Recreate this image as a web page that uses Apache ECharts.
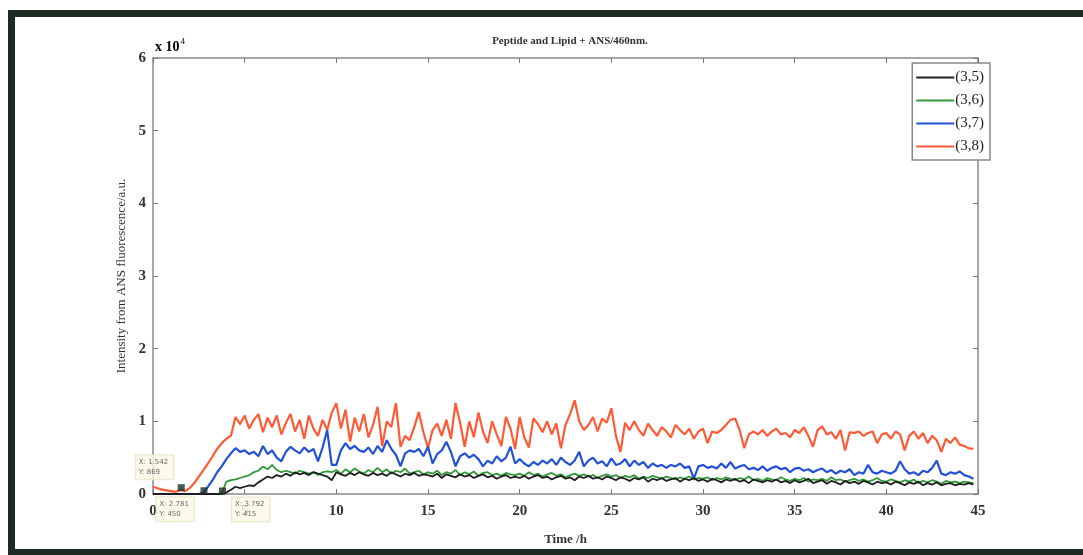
<!DOCTYPE html>
<html>
<head>
<meta charset="utf-8">
<title>Peptide and Lipid + ANS/460nm.</title>
<script src="https://cdn.jsdelivr.net/npm/echarts@6/dist/echarts.min.js"></script>
<style>
  html, body { margin: 0; padding: 0; background: #fff; }
  #chart { width: 1083px; height: 555px; }
</style>
</head>
<body>
<div id="chart"></div>
<script>
// sampling step of the recorder, hours (values are x 10^4 a.u.)
var step = 0.25;

var xTicks = [0, 5, 10, 15, 20, 25, 30, 35, 40, 45];
var yTicks = [0, 1, 2, 3, 4, 5, 6];
var seriesNames = ['(3,5)', '(3,6)', '(3,7)', '(3,8)'];

// (3,5) black
var s35 = [
  0,0,0,0,0,0,0,0,0,0,0,0,0,0,0,0,0.02,0.06,0.10,0.08,
  0.10,0.12,0.11,0.16,0.20,0.24,0.22,0.26,0.24,0.28,0.25,0.30,0.27,0.29,0.26,0.30,0.28,0.26,0.24,0.19,
  0.30,0.27,0.25,0.29,0.26,0.30,0.27,0.25,0.29,0.26,0.28,0.25,0.30,0.27,0.24,0.28,0.26,0.29,0.25,0.27,
  0.26,0.24,0.28,0.22,0.27,0.25,0.23,0.27,0.24,0.26,0.22,0.25,0.27,0.23,0.25,0.21,0.24,0.26,0.22,0.24,
  0.22,0.25,0.21,0.24,0.26,0.22,0.24,0.20,0.23,0.25,0.21,0.23,0.19,0.24,0.22,0.25,0.21,0.23,0.20,0.24,
  0.22,0.19,0.23,0.21,0.18,0.22,0.20,0.23,0.17,0.21,0.19,0.22,0.18,0.20,0.22,0.17,0.21,0.19,0.22,0.18,
  0.20,0.17,0.21,0.19,0.16,0.20,0.18,0.21,0.17,0.19,0.15,0.20,0.18,0.16,0.19,0.17,0.20,0.16,0.18,0.15,
  0.19,0.16,0.18,0.21,0.15,0.17,0.19,0.14,0.18,0.16,0.13,0.18,0.15,0.17,0.14,0.18,0.16,0.13,0.17,0.15,
  0.16,0.13,0.17,0.15,0.12,0.16,0.14,0.17,0.12,0.15,0.13,0.16,0.12,0.14,0.15,0.12,0.14,0.13,0.15,0.13
];
// (3,6) green
var s36 = [
  0,0,0,0,0,0,0,0,0,0,0,0,0,0,0,0.01,0.17,0.19,0.20,0.22,
  0.24,0.26,0.30,0.32,0.38,0.34,0.40,0.33,0.30,0.32,0.30,0.28,0.32,0.30,0.28,0.30,0.26,0.30,0.31,0.30,
  0.33,0.28,0.34,0.30,0.35,0.31,0.28,0.33,0.30,0.36,0.30,0.34,0.28,0.32,0.30,0.35,0.28,0.30,0.32,0.27,
  0.30,0.28,0.32,0.26,0.30,0.28,0.33,0.26,0.30,0.27,0.31,0.25,0.29,0.30,0.26,0.28,0.25,0.29,0.27,0.26,
  0.28,0.25,0.30,0.26,0.28,0.24,0.27,0.29,0.25,0.27,0.23,0.26,0.28,0.25,0.27,0.24,0.26,0.22,0.25,0.27,
  0.24,0.26,0.22,0.25,0.23,0.26,0.21,0.24,0.22,0.25,0.23,0.21,0.24,0.22,0.20,0.23,0.21,0.24,0.20,0.22,
  0.21,0.23,0.19,0.22,0.20,0.23,0.21,0.19,0.22,0.20,0.24,0.19,0.21,0.18,0.22,0.20,0.19,0.23,0.20,0.18,
  0.21,0.19,0.22,0.17,0.20,0.19,0.21,0.18,0.23,0.19,0.20,0.17,0.19,0.21,0.18,0.20,0.17,0.19,0.22,0.18,
  0.17,0.20,0.18,0.16,0.19,0.17,0.20,0.15,0.18,0.16,0.19,0.17,0.14,0.18,0.16,0.17,0.15,0.17,0.16,0.15
];
// (3,7) blue
var s37 = [
  0,0,0,0,0,0,0,0,0,0,0,0.02,0.10,0.19,0.30,0.38,0.48,0.56,0.63,0.58,
  0.60,0.55,0.58,0.52,0.66,0.55,0.60,0.50,0.45,0.58,0.65,0.60,0.56,0.64,0.58,0.62,0.45,0.64,0.88,0.40,
  0.40,0.60,0.70,0.62,0.66,0.60,0.58,0.64,0.55,0.66,0.58,0.74,0.62,0.54,0.38,0.56,0.60,0.58,0.62,0.52,
  0.65,0.42,0.55,0.60,0.72,0.58,0.38,0.52,0.56,0.50,0.54,0.48,0.38,0.46,0.42,0.52,0.45,0.50,0.65,0.42,
  0.48,0.42,0.38,0.44,0.40,0.46,0.42,0.48,0.40,0.50,0.44,0.40,0.46,0.58,0.38,0.46,0.50,0.42,0.45,0.38,
  0.49,0.40,0.42,0.48,0.38,0.46,0.40,0.44,0.36,0.42,0.38,0.40,0.36,0.40,0.38,0.42,0.36,0.38,0.21,0.38,
  0.40,0.36,0.38,0.35,0.42,0.36,0.44,0.35,0.38,0.40,0.34,0.36,0.33,0.38,0.32,0.36,0.38,0.34,0.36,0.30,
  0.35,0.36,0.32,0.34,0.30,0.33,0.35,0.30,0.33,0.28,0.32,0.30,0.34,0.26,0.30,0.28,0.40,0.30,0.28,0.32,
  0.30,0.28,0.32,0.45,0.34,0.28,0.30,0.26,0.32,0.30,0.36,0.46,0.28,0.26,0.30,0.28,0.31,0.26,0.24,0.21
];
// (3,8) red
var s38 = [
  0.10,0.08,0.06,0.05,0.04,0.03,0.06,0.04,0.08,0.15,0.24,0.33,0.42,0.52,0.62,0.70,0.76,0.80,1.06,0.96,
  1.08,0.90,1.02,1.10,0.85,1.05,0.92,1.08,0.82,0.98,1.10,0.86,1.02,0.76,1.08,0.90,0.80,1.02,0.88,1.12,
  1.25,0.90,1.16,0.72,1.05,0.86,1.10,0.78,0.95,1.20,0.66,1.00,0.92,1.25,0.65,0.80,0.74,0.92,1.13,0.85,
  0.63,0.88,0.97,0.80,1.02,0.76,1.25,0.98,0.65,1.00,0.78,1.12,0.86,0.70,1.00,0.82,0.66,1.06,0.90,0.62,
  1.06,0.78,0.64,1.04,0.96,0.85,1.00,0.82,0.97,0.63,0.95,1.10,1.29,1.00,0.88,0.95,1.06,0.86,1.04,0.98,
  1.18,0.80,0.58,0.98,0.88,1.00,0.88,0.80,0.97,0.88,0.80,0.92,0.86,0.78,0.95,0.88,0.82,0.90,0.76,0.86,
  0.90,0.70,0.86,0.84,0.88,0.95,1.02,1.04,0.88,0.63,0.82,0.86,0.82,0.88,0.80,0.86,0.90,0.82,0.84,0.78,
  0.88,0.84,0.92,0.80,0.65,0.88,0.93,0.82,0.85,0.76,0.88,0.60,0.85,0.84,0.86,0.80,0.84,0.86,0.70,0.82,
  0.84,0.76,0.86,0.82,0.60,0.80,0.86,0.76,0.84,0.70,0.80,0.74,0.58,0.76,0.70,0.78,0.68,0.66,0.63,0.62
];

// data cursor tips: [time, value x10^4, raw Y]
var tipX = [1.542, 2.781, 3.792];
var tipY = [0.0869, 0.0450, 0.0415];
var tipRaw = [869, 450, 415];

var colors = ['#1e1e1e', '#2f9a35', '#2250d6', '#ff5a36'];
var serif = 'Liberation Serif';

function pairs(arr) {
  var out = [];
  for (var i = 0; i < arr.length; i++) {
    out.push([+(i * step).toFixed(2), arr[i]]);
  }
  return out;
}

var tipOffsets = [[-42, -29], [-44, 10], [13, 10]];
var tipData = [];
for (var k = 0; k < tipX.length; k++) {
  tipData.push({
    value: [tipX[k], tipY[k]],
    label: {
      show: true,
      position: tipOffsets[k],
      formatter: 'X: ' + tipX[k] + '\nY: ' + tipRaw[k]
    }
  });
}

var chart = echarts.init(document.getElementById('chart'));

var axisLineStyle = { color: '#8a8a8a', width: 1.5 };
var tickStyle = { show: true, inside: true, length: 5, lineStyle: { color: '#777' } };

var option = {
  backgroundColor: '#ffffff',
  animation: false,
  color: colors,
  title: {
    text: 'Peptide and Lipid + ANS/460nm.',
    left: 565,
    top: 31,
    textAlign: 'center',
    textStyle: { fontFamily: serif, fontSize: 11, fontWeight: 'bold', color: '#333' }
  },
  legend: {
    orient: 'vertical',
    right: 93,
    top: 63,
    data: seriesNames,
    icon: 'rect',
    itemWidth: 38,
    itemHeight: 2,
    itemGap: 8,
    padding: [7, 6, 6, 4],
    backgroundColor: '#fff',
    borderColor: '#888',
    borderWidth: 1.5,
    textStyle: { fontFamily: serif, fontSize: 15, color: '#222', padding: [0, 0, 0, -4] }
  },
  grid: { left: 153, right: 105, top: 58, bottom: 61 },
  xAxis: [{
    type: 'value',
    min: 0, max: 45, interval: 5,
    name: 'Time /h',
    nameLocation: 'middle',
    nameGap: 39,
    nameTextStyle: { fontFamily: serif, fontSize: 13, fontWeight: 'bold', color: '#333' },
    axisLine: { show: true, onZero: false, lineStyle: axisLineStyle },
    axisTick: tickStyle,
    axisLabel: {
      fontFamily: serif, fontSize: 15, fontWeight: 'bold', color: '#333', margin: 10,
      formatter: function (v) { return xTicks.indexOf(v) >= 0 ? String(v) : ''; }
    },
    splitLine: { show: false }
  }, {
    type: 'value',
    position: 'top',
    min: 0, max: 45, interval: 5,
    axisLine: { show: true, onZero: false, lineStyle: axisLineStyle },
    axisTick: tickStyle,
    axisLabel: { show: false },
    splitLine: { show: false }
  }],
  yAxis: [{
    type: 'value',
    min: 0, max: 6, interval: 1,
    name: 'Intensity from ANS fluorescence/a.u.',
    nameLocation: 'middle',
    nameGap: 22,
    nameTextStyle: { fontFamily: serif, fontSize: 13, color: '#333' },
    axisLine: { show: true, onZero: false, lineStyle: axisLineStyle },
    axisTick: tickStyle,
    axisLabel: {
      fontFamily: serif, fontSize: 15, fontWeight: 'bold', color: '#333', margin: 7,
      formatter: function (v) { return yTicks.indexOf(v) >= 0 ? String(v) : ''; }
    },
    splitLine: { show: false }
  }, {
    type: 'value',
    position: 'right',
    min: 0, max: 6, interval: 1,
    axisLine: { show: true, onZero: false, lineStyle: axisLineStyle },
    axisTick: tickStyle,
    axisLabel: { show: false },
    splitLine: { show: false }
  }],
  series: [
    { name: seriesNames[0], type: 'line', data: pairs(s35), showSymbol: false, lineStyle: { width: 1.8 }, z: 5 },
    { name: seriesNames[1], type: 'line', data: pairs(s36), showSymbol: false, lineStyle: { width: 1.8 }, z: 4 },
    { name: seriesNames[2], type: 'line', data: pairs(s37), showSymbol: false, lineStyle: { width: 2.2 }, z: 3 },
    { name: seriesNames[3], type: 'line', data: pairs(s38), showSymbol: false, lineStyle: { width: 2.2 }, z: 2 },
    {
      name: 'tips', type: 'scatter', data: tipData,
      symbol: 'rect', symbolSize: 7, z: 10,
      itemStyle: { color: '#1f2f22' },
      label: {
        fontFamily: 'DejaVu Sans', fontSize: 7, lineHeight: 10, color: '#444',
        backgroundColor: '#fdf9e6', borderColor: '#e6e0c0', borderWidth: 1,
        padding: [2, 5, 2, 3]
      }
    }
  ],
  graphic: [
    {
      type: 'rect',
      shape: { x: 11.5, y: 13.5, width: 1100, height: 539 },
      style: { fill: 'none', stroke: '#1d2b23', lineWidth: 7 },
      silent: true
    },
    {
      type: 'text',
      left: 155,
      top: 37,
      style: {
        text: '{a|x 10}{b|4}',
        rich: {
          a: { fontFamily: serif, fontSize: 14, fontWeight: 'bold', color: '#333', verticalAlign: 'bottom' },
          b: { fontFamily: serif, fontSize: 9, color: '#333', verticalAlign: 'top', padding: [0, 0, 8, 1] }
        }
      }
    }
  ]
};

chart.setOption(option);
</script>
</body>
</html>
